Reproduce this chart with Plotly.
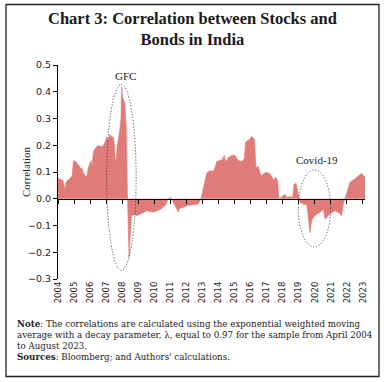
import plotly.graph_objects as go

# Data: position along the time axis (tick label year = integer), correlation value
t = [2004.00, 2004.15, 2004.30, 2004.38, 2004.44, 2004.50, 2004.60, 2004.75, 2004.88, 2004.95,
     2005.02, 2005.12, 2005.26, 2005.40, 2005.50, 2005.60, 2005.72, 2005.79, 2005.88, 2006.00,
     2006.06, 2006.12, 2006.20, 2006.30, 2006.41, 2006.55, 2006.65, 2006.82, 2006.92, 2007.03,
     2007.12, 2007.24, 2007.35, 2007.45, 2007.52, 2007.55, 2007.62, 2007.70, 2007.76, 2007.85,
     2007.92, 2007.97, 2008.02, 2008.10, 2008.17, 2008.22, 2008.26, 2008.30, 2008.32, 2008.35,
     2008.40, 2008.43, 2008.47, 2008.52, 2008.58, 2008.70, 2008.80, 2008.90, 2009.11, 2009.30,
     2009.53, 2009.75, 2009.94, 2010.15, 2010.36, 2010.55, 2010.67, 2010.80, 2010.87, 2011.02,
     2011.12, 2011.29, 2011.42, 2011.50, 2011.58, 2011.70, 2011.91, 2012.10, 2012.43, 2012.74,
     2012.91, 2013.05, 2013.16, 2013.26, 2013.47, 2013.68, 2013.80, 2013.89, 2014.09, 2014.25,
     2014.36, 2014.45, 2014.61, 2014.82, 2015.03, 2015.15, 2015.23, 2015.45, 2015.61, 2015.69,
     2015.86, 2016.07, 2016.15, 2016.23, 2016.34, 2016.48, 2016.58, 2016.65, 2016.85, 2017.00,
     2017.21, 2017.35, 2017.41, 2017.56, 2017.69, 2017.74, 2017.77, 2017.90, 2018.05, 2018.14,
     2018.25, 2018.45, 2018.62, 2018.70, 2018.83, 2018.93, 2019.00, 2019.08, 2019.28, 2019.50,
     2019.60, 2019.70, 2019.80, 2019.91, 2020.12, 2020.32, 2020.53, 2020.64, 2020.75, 2020.90,
     2021.10, 2021.26, 2021.50, 2021.68, 2021.78, 2021.88, 2021.99, 2022.19, 2022.40, 2022.61,
     2022.80, 2022.92, 2023.02, 2023.13]
corr = [0.078, 0.072, 0.068, 0.050, 0.033, 0.062, 0.068, 0.075, 0.085, 0.135,
        0.143, 0.138, 0.124, 0.115, 0.112, 0.095, 0.085, 0.080, 0.115, 0.130,
        0.143, 0.120, 0.174, 0.186, 0.195, 0.200, 0.195, 0.198, 0.210, 0.230,
        0.220, 0.240, 0.232, 0.230, 0.200, 0.150, 0.145, 0.200, 0.220, 0.260,
        0.300, 0.418, 0.380, 0.365, 0.356, 0.300, 0.255, 0.100, 0.000, -0.040,
        -0.160, -0.220, -0.170, -0.090, -0.065, -0.060, -0.060, -0.064, -0.058, -0.050,
        -0.045, -0.048, -0.050, -0.045, -0.040, -0.032, -0.026, -0.010, 0.000, 0.006,
        -0.005, -0.020, -0.040, -0.050, -0.035, -0.035, -0.030, -0.025, -0.022, -0.020,
        0.000, 0.043, 0.068, 0.095, 0.105, 0.103, 0.120, 0.139, 0.143, 0.148,
        0.162, 0.137, 0.153, 0.162, 0.163, 0.150, 0.143, 0.139, 0.150, 0.212,
        0.218, 0.233, 0.228, 0.224, 0.118, 0.120, 0.100, 0.086, 0.095, 0.099,
        0.093, 0.080, 0.068, 0.080, 0.068, 0.030, 0.000, 0.005, 0.011, 0.017,
        0.005, 0.008, 0.005, 0.053, 0.058, 0.030, 0.000, -0.014, -0.020, -0.023,
        -0.070, -0.127, -0.083, -0.070, -0.058, -0.051, -0.039, -0.076, -0.070, -0.058,
        -0.050, -0.045, -0.052, -0.064, -0.020, 0.000, 0.024, 0.061, 0.070, 0.080,
        0.088, 0.095, 0.088, 0.080]

years = list(range(2004, 2024))
year_labels = [str(y) for y in years]
y_ticks = [-0.3, -0.2, -0.1, 0.0, 0.1, 0.2, 0.3, 0.4, 0.5]

# Highlighted episodes (ellipse extents in data units) and labels
episodes = ["GFC", "Covid-19"]
ell_x = [(2007.03, 2008.87), (2018.97, 2020.99)]
ell_y = [(-0.268, 0.427), (-0.18, 0.108)]
label_pos = [(2008.2, 0.46), (2020.14, 0.145)]

title = "<b>Chart 3: Correlation between Stocks and<br>Bonds in India</b>"
note_lines = [
    "<b>Note</b>: The correlations are calculated using the exponential weighted moving",
    "average with a decay parameter, λ, equal to 0.97 for the sample from April 2004",
    "to August 2023.",
    "<b>Sources</b>: Bloomberg; and Authors' calculations.",
]

W, H = 385, 382
L, R, T, B = 58, 20, 65, 103
pw, ph = W - L - R, H - T - B


def px(x):
    return (x - L) / pw


def py(y):
    return (H - B - y) / ph


SERIF = "Liberation Serif"
NOTE_FONT = "DejaVu Serif"
SANS = "DejaVu Sans"
FILL = "#E17B78"

fig = go.Figure()
fig.add_trace(go.Scatter(x=t, y=corr, mode="lines", fill="tozeroy",
                         line=dict(color=FILL, width=0.6), fillcolor=FILL,
                         showlegend=False, hoverinfo="skip"))
# helper trace so the zero-line axis is drawn
fig.add_trace(go.Scatter(x=[t[0]], y=[corr[0]], xaxis="x2", mode="markers",
                         marker=dict(opacity=0), showlegend=False, hoverinfo="skip"))

for (x0, x1), (y0, y1) in zip(ell_x, ell_y):
    fig.add_shape(type="circle", xref="x", yref="y", x0=x0, x1=x1, y0=y0, y1=y1,
                  line=dict(color="#333333", width=1, dash="1px,2px"))
for name, (lx, ly) in zip(episodes, label_pos):
    fig.add_annotation(x=lx, y=ly, xref="x", yref="y", text=name, showarrow=False,
                       font=dict(family=SERIF, size=11, color="#222"))

# title
fig.add_annotation(x=px(192.5), y=py(29), xref="paper", yref="paper", text=title,
                   showarrow=False, xanchor="center", yanchor="middle",
                   font=dict(family=SERIF, size=16.5, color="#1a1a1a"))
# y-axis title
fig.add_annotation(x=px(26), y=0.5, xref="paper", yref="paper", text="Correlation",
                   textangle=-90, showarrow=False, xanchor="center", yanchor="middle",
                   font=dict(family=SERIF, size=11, color="#222"))
# notes
for i, line in enumerate(note_lines):
    fig.add_annotation(x=px(15), y=py(324 + i * 11), xref="paper", yref="paper",
                       text=line, showarrow=False, xanchor="left", yanchor="middle",
                       font=dict(family=NOTE_FONT, size=8.7, color="#222"))
# frame
fig.add_shape(type="rect", xref="paper", yref="paper",
              x0=px(6), x1=px(379), y0=py(376.5), y1=py(4.5),
              line=dict(color="#222", width=1.3))

fig.update_layout(
    width=W, height=H, margin=dict(l=L, r=R, t=T, b=B),
    paper_bgcolor="white", plot_bgcolor="white",
    xaxis=dict(range=[2004, 2023.13], tickvals=years, ticktext=year_labels,
               tickangle=-90, showline=False, ticks="", showgrid=False, zeroline=False,
               tickfont=dict(family=SANS, size=8.5, color="#222")),
    xaxis2=dict(overlaying="x", matches="x", anchor="free",
                position=0.3 / 0.8, showline=True, linecolor="black", linewidth=1.2,
                ticks="outside", ticklen=4, tickcolor="black", tickvals=years,
                showticklabels=False, showgrid=False, zeroline=False),
    yaxis=dict(range=[-0.3, 0.5], tickvals=y_ticks, tickformat=".1f",
               showline=True, linecolor="black", linewidth=1, ticks="outside",
               ticklen=4, tickcolor="black", showgrid=False, zeroline=False,
               tickfont=dict(family=SANS, size=9.5, color="#222")),
)

fig.write_html("out.html", config={"displayModeBar": False},
               post_script="document.body.style.margin='0';")
